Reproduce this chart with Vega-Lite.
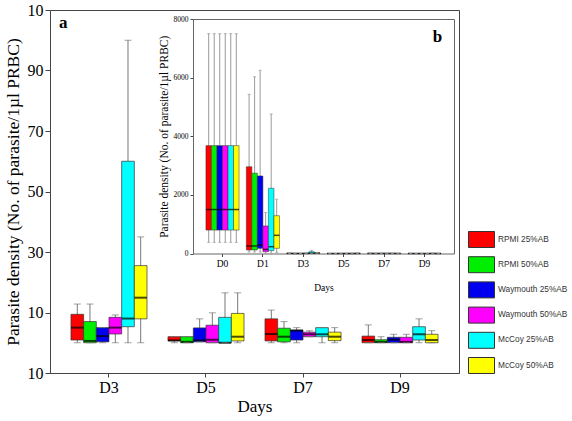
{
 "$schema": "https://vega.github.io/schema/vega-lite/v6.json",
 "width": 409, "height": 363,
 "autosize": {"type": "none"},
 "padding": {"left": 50, "top": 10, "right": 113, "bottom": 48},
 "background": "white",
 "config": {
  "view": {"stroke": "#444", "strokeWidth": 1},
  "font": "Liberation Serif",
  "axis": {"labelFont": "Liberation Serif", "titleFont": "Liberation Serif", "labelColor": "#000", "titleColor": "#000", "domainColor": "#444", "tickColor": "#444", "grid": false, "titleFontWeight": "normal", "labelFlush": false, "labelOverlap": false}
 },
 "title": {"text": "a", "anchor": "start", "orient": "top", "frame": "group", "offset": -18, "dx": 9, "dy": 25, "fontSize": 17, "fontWeight": "bold", "font": "Liberation Serif", "color": "#000", "baseline": "alphabetic"},
 "datasets": {
  "box": [
   {"day": "D0", "series": "RPMI 25%AB", "min": 380, "q1": 800, "median": 1500, "q3": 3680, "max": 7500},
   {"day": "D0", "series": "RPMI 50%AB", "min": 380, "q1": 800, "median": 1500, "q3": 3680, "max": 7500},
   {"day": "D0", "series": "Waymouth 25%AB", "min": 380, "q1": 800, "median": 1500, "q3": 3680, "max": 7500},
   {"day": "D0", "series": "Waymouth 50%AB", "min": 380, "q1": 800, "median": 1500, "q3": 3680, "max": 7500},
   {"day": "D0", "series": "McCoy 25%AB", "min": 380, "q1": 800, "median": 1500, "q3": 3680, "max": 7500},
   {"day": "D0", "series": "McCoy 50%AB", "min": 380, "q1": 800, "median": 1500, "q3": 3680, "max": 7500},
   {"day": "D1", "series": "RPMI 25%AB", "min": 50, "q1": 120, "median": 256, "q3": 2960, "max": 5430},
   {"day": "D1", "series": "RPMI 50%AB", "min": 50, "q1": 120, "median": 256, "q3": 2740, "max": 6030},
   {"day": "D1", "series": "Waymouth 25%AB", "min": 50, "q1": 177, "median": 290, "q3": 2645, "max": 6250},
   {"day": "D1", "series": "Waymouth 50%AB", "min": 0, "q1": 60, "median": 140, "q3": 940, "max": 1400},
   {"day": "D1", "series": "McCoy 25%AB", "min": 0, "q1": 96, "median": 232, "q3": 2225, "max": 4760},
   {"day": "D1", "series": "McCoy 50%AB", "min": 30, "q1": 177, "median": 620, "q3": 1290, "max": 1850},
   {"day": "D3", "series": "RPMI 25%AB", "min": 0, "q1": 0.9, "median": 5.0, "q3": 9.4, "max": 12.8},
   {"day": "D3", "series": "RPMI 50%AB", "min": 0, "q1": 0, "median": 0.6, "q3": 7, "max": 12.8},
   {"day": "D3", "series": "Waymouth 25%AB", "min": 0, "q1": 0.3, "median": 2.2, "q3": 5, "max": 5},
   {"day": "D3", "series": "Waymouth 50%AB", "min": 0, "q1": 2.9, "median": 5.0, "q3": 8.4, "max": 9.2},
   {"day": "D3", "series": "McCoy 25%AB", "min": 0, "q1": 5.3, "median": 8, "q3": 60, "max": 100},
   {"day": "D3", "series": "McCoy 50%AB", "min": 0, "q1": 7.9, "median": 14.9, "q3": 25.5, "max": 35},
   {"day": "D5", "series": "RPMI 25%AB", "min": 0, "q1": 0.6, "median": 0.8, "q3": 2, "max": 2},
   {"day": "D5", "series": "RPMI 50%AB", "min": 0, "q1": 0, "median": 0.3, "q3": 2, "max": 2},
   {"day": "D5", "series": "Waymouth 25%AB", "min": 0.3, "q1": 0.3, "median": 0.8, "q3": 4.9, "max": 7.9},
   {"day": "D5", "series": "Waymouth 50%AB", "min": 0, "q1": 0, "median": 1, "q3": 5.8, "max": 9.9},
   {"day": "D5", "series": "McCoy 25%AB", "min": 0, "q1": 0, "median": 0, "q3": 8.4, "max": 16.5},
   {"day": "D5", "series": "McCoy 50%AB", "min": 0, "q1": 0.6, "median": 2, "q3": 9.7, "max": 16.5},
   {"day": "D7", "series": "RPMI 25%AB", "min": 0, "q1": 0.6, "median": 2.9, "q3": 7.9, "max": 10.8},
   {"day": "D7", "series": "RPMI 50%AB", "min": 0, "q1": 0.3, "median": 2, "q3": 4.8, "max": 7},
   {"day": "D7", "series": "Waymouth 25%AB", "min": 0, "q1": 0.9, "median": 4.0, "q3": 4.2, "max": 5},
   {"day": "D7", "series": "Waymouth 50%AB", "min": 2, "q1": 2, "median": 2.8, "q3": 3.5, "max": 4},
   {"day": "D7", "series": "McCoy 25%AB", "min": 0, "q1": 2, "median": 2.8, "q3": 5, "max": 5},
   {"day": "D7", "series": "McCoy 50%AB", "min": 0, "q1": 0.7, "median": 2, "q3": 3.5, "max": 5},
   {"day": "D9", "series": "RPMI 25%AB", "min": 0, "q1": 0, "median": 0.9, "q3": 2.2, "max": 5.9},
   {"day": "D9", "series": "RPMI 50%AB", "min": 0, "q1": 0, "median": 0.3, "q3": 1, "max": 2},
   {"day": "D9", "series": "Waymouth 25%AB", "min": 0, "q1": 0, "median": 1, "q3": 1.8, "max": 2.8},
   {"day": "D9", "series": "Waymouth 50%AB", "min": 0, "q1": 0, "median": 0.3, "q3": 1.8, "max": 2.8},
   {"day": "D9", "series": "McCoy 25%AB", "min": 0, "q1": 0.9, "median": 2.8, "q3": 5.3, "max": 7.9},
   {"day": "D9", "series": "McCoy 50%AB", "min": 0, "q1": 0, "median": 0.9, "q3": 2.8, "max": 4}
  ]
 },
 "layer": [
  {
   "data": {"name": "box"},
   "transform": [{"filter": "datum.day != 'D0' && datum.day != 'D1'"}],
   "encoding": {
    "x": {"field": "day", "type": "nominal", "sort": ["D3", "D5", "D7", "D9"], "scale": {"paddingInner": 0.216, "paddingOuter": 0.216},
     "axis": {"title": "Days", "labelFontSize": 16, "titleFontSize": 17, "labelAngle": 0, "tickSize": 4, "labelPadding": 2, "titlePadding": 3}},
    "xOffset": {"field": "series", "type": "nominal", "sort": ["RPMI 25%AB", "RPMI 50%AB", "Waymouth 25%AB", "Waymouth 50%AB", "McCoy 25%AB", "McCoy 50%AB"], "scale": {"paddingInner": 0, "paddingOuter": 0}}
   },
   "layer": [
    {"mark": {"type": "rule", "color": "#777", "strokeWidth": 1},
     "encoding": {
      "y": {"field": "min", "type": "quantitative", "scale": {"domain": [-10, 110], "nice": false, "zero": false},
       "axis": {"values": [-10, 10, 30, 50, 70, 90, 110], "labelExpr": "datum.value == 110 || datum.value == -10 ? '10' : datum.label", "labelFontSize": 16, "title": "Parasite density (No. of parasite/1µl PRBC)", "titleFontSize": 17.5, "tickSize": 5, "labelPadding": 2, "titlePadding": 5}},
      "y2": {"field": "max"}}},
    {"mark": {"type": "bar", "stroke": "#333", "strokeWidth": 0.7, "opacity": 1},
     "encoding": {
      "y": {"field": "q1", "type": "quantitative"}, "y2": {"field": "q3"},
      "color": {"field": "series", "type": "nominal",
       "scale": {"domain": ["RPMI 25%AB", "RPMI 50%AB", "Waymouth 25%AB", "Waymouth 50%AB", "McCoy 25%AB", "McCoy 50%AB"], "range": ["#ff0000", "#00ee00", "#0000ee", "#ff00ff", "#00ffff", "#ffff00"]},
       "legend": {"orient": "none", "legendX": 418, "legendY": 216, "title": null, "symbolType": "M-1,-0.615L1,-0.615L1,0.615L-1,0.615Z", "symbolSize": 676, "symbolStrokeColor": "#444", "symbolStrokeWidth": 1, "symbolOpacity": 1, "labelFont": "Liberation Sans", "labelFontSize": 8.3, "labelColor": "#333", "rowPadding": 1.2, "labelOffset": 3}}}},
    {"mark": {"type": "tick", "color": "#000", "thickness": 2, "size": 12.5},
     "encoding": {"y": {"field": "median", "type": "quantitative"}}},
    {"mark": {"type": "tick", "color": "#777", "thickness": 1, "size": 7},
     "encoding": {"y": {"field": "max", "type": "quantitative"}}},
    {"mark": {"type": "tick", "color": "#777", "thickness": 1, "size": 7},
     "encoding": {"y": {"field": "min", "type": "quantitative"}}}
   ]
  },
  {
   "data": {"name": "box"},
   "encoding": {
    "x": {"field": "day", "type": "nominal", "sort": ["D0", "D1", "D3", "D5", "D7", "D9"], "scale": {"range": [143, 404], "paddingInner": 0.18, "paddingOuter": 0.32},
     "axis": {"orient": "bottom", "offset": -119.5, "title": "Days", "labelFontSize": 9.5, "titleFontSize": 9.5, "labelAngle": 0, "tickSize": 3, "labelPadding": 2, "titlePadding": 14, "domainColor": "#666"}},
    "xOffset": {"field": "series", "type": "nominal", "sort": ["RPMI 25%AB", "RPMI 50%AB", "Waymouth 25%AB", "Waymouth 50%AB", "McCoy 25%AB", "McCoy 50%AB"], "scale": {"paddingInner": 0, "paddingOuter": 0}}
   },
   "layer": [
    {"mark": {"type": "rule", "color": "#999", "strokeWidth": 1},
     "encoding": {
      "y": {"field": "min", "type": "quantitative", "scale": {"domain": [0, 8000], "range": [243.5, 9], "nice": false, "zero": false},
       "axis": {"orient": "left", "offset": -143, "values": [0, 2000, 4000, 6000, 8000], "format": "d", "labelFontSize": 7.5, "title": "Parasite density (No. of parasite/1µl PRBC)", "titleFontSize": 11.5, "tickSize": 3, "labelPadding": 2, "titlePadding": 4, "domainColor": "#666"}},
      "y2": {"field": "max"}}},
    {"mark": {"type": "bar", "stroke": "#333", "strokeWidth": 0.5, "opacity": 1},
     "encoding": {
      "y": {"field": "q1", "type": "quantitative"}, "y2": {"field": "q3"},
      "color": {"field": "series", "type": "nominal"}}},
    {"mark": {"type": "tick", "color": "#000", "thickness": 1.5, "size": 5.5},
     "encoding": {"y": {"field": "median", "type": "quantitative"}}},
    {"mark": {"type": "tick", "color": "#999", "thickness": 1, "size": 3},
     "encoding": {"y": {"field": "max", "type": "quantitative"}}},
    {"mark": {"type": "tick", "color": "#999", "thickness": 1, "size": 3},
     "encoding": {"y": {"field": "min", "type": "quantitative"}}}
   ]
  },
  {
   "data": {"name": "box"},
   "mark": {"type": "point", "opacity": 0},
   "encoding": {
    "x": {"datum": 0, "type": "quantitative", "scale": {"domain": [0, 1], "range": [143, 404], "nice": false, "zero": false},
     "axis": {"orient": "top", "offset": -9, "ticks": false, "labels": false, "domainColor": "#666", "title": "b", "titleX": 387, "titleY": 22, "titleFontSize": 17, "titleFontWeight": "bold", "titleAlign": "center", "titleBaseline": "alphabetic"}},
    "y": {"datum": 0, "type": "quantitative", "scale": {"domain": [0, 1], "range": [243.5, 9], "nice": false, "zero": false},
     "axis": {"orient": "right", "offset": -5, "ticks": false, "labels": false, "title": null, "domainColor": "#666"}}
   }
  }
 ],
 "resolve": {"scale": {"x": "independent", "y": "independent", "xOffset": "independent"}, "axis": {"x": "independent", "y": "independent"}}
}
